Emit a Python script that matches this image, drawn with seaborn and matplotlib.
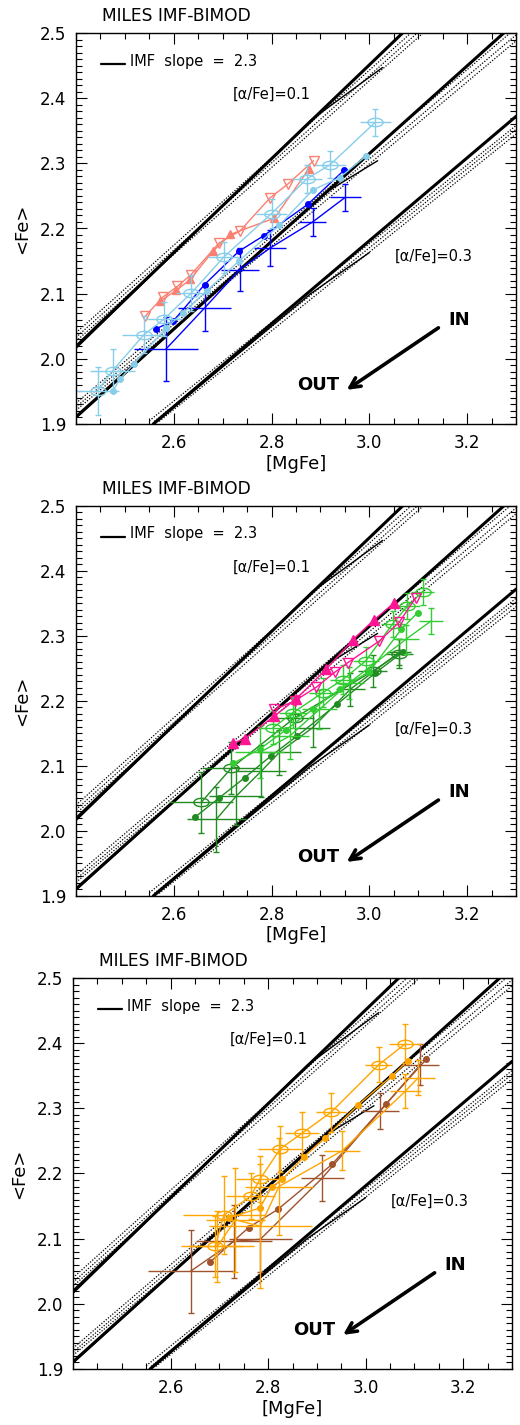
import numpy as np
import matplotlib
matplotlib.use("Agg")
import matplotlib.pyplot as plt
import seaborn as sns
from matplotlib.path import Path
from matplotlib.ticker import MultipleLocator, FixedLocator, FormatStrFormatter

sns.set_style("ticks")
plt.rcParams["font.family"] = ["DejaVu Sans"]
plt.rcParams.update({"text.color": "black", "axes.labelcolor": "black",
                     "xtick.color": "black", "ytick.color": "black",
                     "axes.edgecolor": "black"})

# ---- model grid (same in all panels) ----
model_solid_x = [[2.40, 3.068], [2.40, 3.275], [2.558, 3.30]]
model_solid_y = [[2.019, 2.50], [1.911, 2.50], [1.900, 2.372]]
model_branch_x = [[2.40, 2.88, 3.027], [2.40, 2.91, 3.017], [2.56, 2.88, 3.00]]
model_branch_y = [[2.016, 2.366, 2.447], [1.909, 2.255, 2.304], [1.900, 2.100, 2.163]]
model_dot_x = [[2.40, 3.085], [2.40, 3.098], [2.40, 3.110],
               [2.40, 3.288], [2.40, 3.30], [2.40, 3.30],
               [2.55, 3.30], [2.56, 3.30], [2.57, 3.30]]
model_dot_y = [[2.040, 2.50], [2.033, 2.50], [2.027, 2.50],
               [1.932, 2.50], [1.926, 2.497], [1.921, 2.488],
               [1.905, 2.358], [1.904, 2.352], [1.904, 2.345]]

# ---- panel 1 ----
p1_sky_circ_x = [2.444, 2.475, 2.539, 2.580, 2.636, 2.702, 2.800, 2.872, 2.920, 3.012]
p1_sky_circ_y = [1.951, 1.982, 2.037, 2.061, 2.101, 2.156, 2.223, 2.276, 2.298, 2.363]
p1_sky_circ_xerr = [0.044, 0.046, 0.044, 0.036, 0.032, 0.032, 0.031, 0.031, 0.032, 0.032]
p1_sky_circ_yerr = [0.037, 0.033, 0.028, 0.026, 0.027, 0.024, 0.022, 0.021, 0.021, 0.021]
p1_sky_dot_x = [2.475, 2.490, 2.518, 2.584, 2.618, 2.667, 2.733, 2.816, 2.884, 2.939, 2.993]
p1_sky_dot_y = [1.950, 1.969, 1.992, 2.047, 2.070, 2.104, 2.150, 2.205, 2.259, 2.278, 2.311]
p1_blue_dot_x = [2.563, 2.599, 2.663, 2.733, 2.784, 2.874, 2.949]
p1_blue_dot_y = [2.046, 2.058, 2.114, 2.165, 2.189, 2.237, 2.290]
p1_blue_crs_x = [2.584, 2.663, 2.735, 2.797, 2.884, 2.951]
p1_blue_crs_y = [2.015, 2.078, 2.137, 2.170, 2.210, 2.248]
p1_blue_crs_xerr = [0.066, 0.054, 0.039, 0.033, 0.027, 0.031]
p1_blue_crs_yerr = [0.049, 0.036, 0.033, 0.027, 0.021, 0.021]
p1_salm_open_x = [2.541, 2.578, 2.607, 2.635, 2.693, 2.735, 2.797, 2.833, 2.886]
p1_salm_open_y = [2.065, 2.095, 2.111, 2.129, 2.178, 2.196, 2.247, 2.268, 2.304]
p1_salm_fill_x = [2.571, 2.605, 2.634, 2.680, 2.716, 2.806, 2.876]
p1_salm_fill_y = [2.088, 2.105, 2.122, 2.165, 2.191, 2.216, 2.291]

# ---- panel 2 ----
p2_pink_fill_x = [2.721, 2.745, 2.806, 2.850, 2.912, 2.966, 3.010, 3.051]
p2_pink_fill_y = [2.135, 2.142, 2.177, 2.203, 2.249, 2.294, 2.325, 2.351]
p2_pink_open_x = [2.806, 2.847, 2.891, 2.929, 2.956, 3.020, 3.061, 3.095]
p2_pink_open_y = [2.187, 2.200, 2.221, 2.244, 2.259, 2.292, 2.321, 2.359]
p2_dkg_circ_x = [2.656, 2.718, 2.847, 3.007, 3.061]
p2_dkg_circ_y = [2.044, 2.097, 2.174, 2.246, 2.273]
p2_dkg_circ_xerr = [0.065, 0.060, 0.040, 0.030, 0.028]
p2_dkg_circ_yerr = [0.047, 0.040, 0.030, 0.025, 0.022]
p2_dkg_dot_x = [2.643, 2.693, 2.745, 2.798, 2.852, 2.934, 3.012, 3.068]
p2_dkg_dot_y = [2.021, 2.051, 2.082, 2.115, 2.146, 2.195, 2.243, 2.275]
p2_dkg_crs_x = [2.687, 2.728, 2.779, 2.816, 2.884, 2.961, 3.061]
p2_dkg_crs_y = [2.018, 2.054, 2.092, 2.121, 2.159, 2.218, 2.275]
p2_dkg_crs_xerr = [0.060, 0.055, 0.050, 0.045, 0.035, 0.030, 0.025]
p2_dkg_crs_yerr = [0.050, 0.045, 0.040, 0.035, 0.030, 0.025, 0.020]
p2_lim_dot_x = [2.721, 2.776, 2.830, 2.884, 2.939, 3.000, 3.065, 3.099]
p2_lim_dot_y = [2.104, 2.126, 2.156, 2.187, 2.218, 2.245, 2.310, 2.336]
p2_lim_circ_x = [2.803, 2.844, 2.905, 2.946, 2.993, 3.048, 3.078, 3.109]
p2_lim_circ_y = [2.159, 2.182, 2.213, 2.233, 2.262, 2.319, 2.346, 2.368]
p2_lim_circ_xerr = [0.030, 0.028, 0.028, 0.026, 0.026, 0.025, 0.025, 0.024]
p2_lim_circ_yerr = [0.025, 0.024, 0.022, 0.022, 0.021, 0.020, 0.020, 0.020]
p2_lim_crs_x = [2.776, 2.837, 2.898, 2.959, 3.075, 3.126]
p2_lim_crs_y = [2.121, 2.146, 2.187, 2.228, 2.295, 2.323]
p2_lim_crs_xerr = [0.050, 0.040, 0.035, 0.030, 0.027, 0.025]
p2_lim_crs_yerr = [0.040, 0.035, 0.030, 0.025, 0.022, 0.020]

# ---- panel 3 ----
p3_or_circ_x = [2.692, 2.709, 2.764, 2.784, 2.825, 2.870, 2.929, 3.027, 3.081]
p3_or_circ_y = [2.088, 2.136, 2.165, 2.192, 2.238, 2.262, 2.294, 2.367, 2.399]
p3_or_circ_xerr = [0.056, 0.084, 0.050, 0.050, 0.045, 0.035, 0.030, 0.028, 0.033]
p3_or_circ_yerr = [0.047, 0.060, 0.035, 0.035, 0.035, 0.033, 0.030, 0.027, 0.030]
p3_or_dot_x = [2.719, 2.783, 2.808, 2.829, 2.874, 2.916, 2.984, 3.053, 3.086]
p3_or_dot_y = [2.132, 2.147, 2.180, 2.191, 2.226, 2.254, 2.305, 2.349, 2.373]
p3_or_crs_x = [2.696, 2.733, 2.784, 2.822, 2.952, 3.081, 3.108]
p3_or_crs_y = [2.088, 2.129, 2.119, 2.180, 2.235, 2.326, 2.347]
p3_or_crs_xerr = [0.075, 0.060, 0.105, 0.070, 0.037, 0.032, 0.034]
p3_or_crs_yerr = [0.055, 0.080, 0.095, 0.074, 0.030, 0.026, 0.027]
p3_br_dot_x = [2.681, 2.760, 2.820, 2.931, 3.042, 3.124]
p3_br_dot_y = [2.064, 2.117, 2.145, 2.214, 2.307, 2.375]
p3_br_crs_x = [2.641, 2.730, 2.784, 2.911, 3.030, 3.112]
p3_br_crs_y = [2.050, 2.096, 2.099, 2.193, 2.296, 2.367]
p3_br_crs_xerr = [0.087, 0.077, 0.065, 0.044, 0.039, 0.039]
p3_br_crs_yerr = [0.064, 0.056, 0.050, 0.035, 0.028, 0.031]

x_ticks = [2.6, 2.8, 3.0, 3.2]

W, H = 520, 1425
boxes = [(76, 33, 516, 424), (76, 506, 516, 896), (73, 978, 512, 1369)]

circ = Path.unit_circle()
ellipse = Path(circ.vertices * np.array([1.0, 0.55]), circ.codes)


def line(ax, x, y, color, marker=None, ms=4, filled=True, lw=1.0):
    sns.lineplot(x=x, y=y, ax=ax, color=color, sort=False, estimator=None,
                 lw=lw, marker=marker, markersize=ms,
                 markerfacecolor=color if filled else "none",
                 markeredgecolor=color, markeredgewidth=1.0, legend=False)


def errs(ax, x, y, xerr, yerr, color):
    ax.errorbar(x, y, yerr=yerr, fmt="none", ecolor=color, elinewidth=1.0, capsize=2.5)
    ax.errorbar(x, y, xerr=xerr, fmt="none", ecolor=color, elinewidth=1.0, capsize=0)


fig = plt.figure(figsize=(W / 100, H / 100), dpi=100)
axes = []
for l, t, r, b in boxes:
    ax = fig.add_axes([l / W, 1 - b / H, (r - l) / W, (b - t) / H])
    axes.append(ax)

    for xs, ys in zip(model_dot_x, model_dot_y):
        ax.plot(xs, ys, color="k", lw=0.9, ls=(0, (1, 1.3)))
    for xs, ys in zip(model_branch_x, model_branch_y):
        ax.plot(xs, ys, color="k", lw=1.0)
    for xs, ys in zip(model_solid_x, model_solid_y):
        ax.plot(xs, ys, color="k", lw=2.2)

    ax.set_xlim(2.4, 3.3)
    ax.set_ylim(1.9, 2.5)
    ax.xaxis.set_major_locator(FixedLocator(x_ticks))
    ax.xaxis.set_minor_locator(MultipleLocator(0.05))
    ax.yaxis.set_major_locator(MultipleLocator(0.1))
    ax.yaxis.set_minor_locator(MultipleLocator(0.01))
    ax.xaxis.set_major_formatter(FormatStrFormatter("%.1f"))
    ax.yaxis.set_major_formatter(FormatStrFormatter("%.1f"))
    ax.tick_params(which="both", direction="in", top=True, right=True,
                   labelsize=12, width=0.8, pad=7)
    ax.tick_params(which="major", length=8)
    ax.tick_params(which="minor", length=4)
    for s in ax.spines.values():
        s.set_linewidth(1.0)
    ax.set_xlabel("[MgFe]", fontsize=13, labelpad=2)
    ax.set_ylabel("<Fe>", fontsize=13, labelpad=6)
    ax.text(0.06, 1.02, "MILES IMF-BIMOD", transform=ax.transAxes,
            fontsize=12.3, va="bottom", ha="left")

    ax.plot([2.452, 2.50], [2.452, 2.452], color="k", lw=1.6)
    ax.text(2.51, 2.457, "IMF  slope  =  2.3", fontsize=10.5, va="center", ha="left")
    ax.text(2.801, 2.406, "[\u03b1/Fe]=0.1", fontsize=10.5, va="center", ha="center")
    ax.text(3.131, 2.157, "[\u03b1/Fe]=0.3", fontsize=10.5, va="center", ha="center")
    ax.annotate("", xy=(2.949, 1.950), xytext=(3.146, 2.050),
                arrowprops=dict(arrowstyle="->", lw=2.6, color="k", mutation_scale=18))
    ax.text(3.184, 2.060, "IN", fontsize=13, fontweight="bold", va="center", ha="center")
    ax.text(2.895, 1.960, "OUT", fontsize=13, fontweight="bold", va="center", ha="center")

ax1, ax2, ax3 = axes

# panel 1
line(ax1, p1_salm_fill_x, p1_salm_fill_y, "salmon", marker="^", ms=6)
line(ax1, p1_salm_open_x, p1_salm_open_y, "salmon", marker="v", ms=7, filled=False)
line(ax1, p1_blue_dot_x, p1_blue_dot_y, "blue", marker="o", ms=4)
errs(ax1, p1_blue_crs_x, p1_blue_crs_y, p1_blue_crs_xerr, p1_blue_crs_yerr, "blue")
line(ax1, p1_blue_crs_x, p1_blue_crs_y, "blue")
line(ax1, p1_sky_dot_x, p1_sky_dot_y, "skyblue", marker="o", ms=4)
errs(ax1, p1_sky_circ_x, p1_sky_circ_y, p1_sky_circ_xerr, p1_sky_circ_yerr, "skyblue")
line(ax1, p1_sky_circ_x, p1_sky_circ_y, "skyblue", marker=ellipse, ms=11, filled=False)

# panel 2
errs(ax2, p2_dkg_crs_x, p2_dkg_crs_y, p2_dkg_crs_xerr, p2_dkg_crs_yerr, "forestgreen")
line(ax2, p2_dkg_crs_x, p2_dkg_crs_y, "forestgreen")
line(ax2, p2_dkg_dot_x, p2_dkg_dot_y, "forestgreen", marker="o", ms=4)
errs(ax2, p2_dkg_circ_x, p2_dkg_circ_y, p2_dkg_circ_xerr, p2_dkg_circ_yerr, "forestgreen")
line(ax2, p2_dkg_circ_x, p2_dkg_circ_y, "forestgreen", marker=ellipse, ms=11, filled=False)
errs(ax2, p2_lim_crs_x, p2_lim_crs_y, p2_lim_crs_xerr, p2_lim_crs_yerr, "limegreen")
line(ax2, p2_lim_crs_x, p2_lim_crs_y, "limegreen")
line(ax2, p2_lim_dot_x, p2_lim_dot_y, "limegreen", marker="o", ms=4)
errs(ax2, p2_lim_circ_x, p2_lim_circ_y, p2_lim_circ_xerr, p2_lim_circ_yerr, "limegreen")
line(ax2, p2_lim_circ_x, p2_lim_circ_y, "limegreen", marker=ellipse, ms=11, filled=False)
line(ax2, p2_pink_open_x, p2_pink_open_y, "deeppink", marker="v", ms=7, filled=False)
line(ax2, p2_pink_fill_x, p2_pink_fill_y, "deeppink", marker="^", ms=7)

# panel 3
errs(ax3, p3_br_crs_x, p3_br_crs_y, p3_br_crs_xerr, p3_br_crs_yerr, "sienna")
line(ax3, p3_br_crs_x, p3_br_crs_y, "sienna")
line(ax3, p3_br_dot_x, p3_br_dot_y, "sienna", marker="o", ms=4)
errs(ax3, p3_or_crs_x, p3_or_crs_y, p3_or_crs_xerr, p3_or_crs_yerr, "orange")
line(ax3, p3_or_crs_x, p3_or_crs_y, "orange")
line(ax3, p3_or_dot_x, p3_or_dot_y, "orange", marker="o", ms=4)
errs(ax3, p3_or_circ_x, p3_or_circ_y, p3_or_circ_xerr, p3_or_circ_yerr, "orange")
line(ax3, p3_or_circ_x, p3_or_circ_y, "orange", marker=ellipse, ms=11, filled=False)

fig.savefig("out.png", dpi=100)
